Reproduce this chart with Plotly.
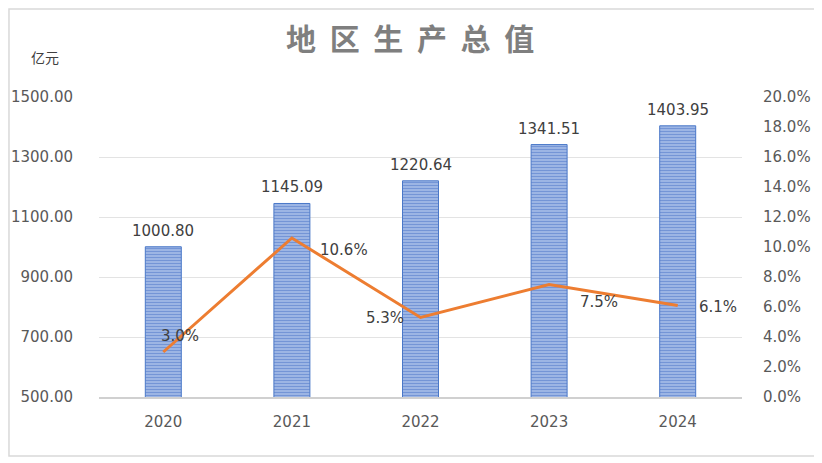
import plotly.graph_objects as go

years = ['2020', '2021', '2022', '2023', '2024']
gdp = [1000.80, 1145.09, 1220.64, 1341.51, 1403.95]
growth = [0.030, 0.106, 0.053, 0.075, 0.061]

# label offsets for the growth line (anchor, xshift, yshift)
growth_lbl = [('center', 17, 16), ('left', 26, -12), ('right', -15, 0),
              ('left', 29, -17), ('left', 19, -1)]

gray = '#595959'
font_name = 'DejaVu Sans'

fig = go.Figure()

fig.add_trace(go.Bar(
    x=years,
    y=gdp,
    width=0.28,
    marker=dict(
        color='#a9bfe8',
        line=dict(width=1, color='#4a78c8'),
        pattern=dict(shape='-', fgcolor='#3f6cc4', size=3, solidity=0.5),
    ),
    name='地区生产总值',
))

fig.add_trace(go.Scatter(
    x=years,
    y=growth,
    mode='lines',
    yaxis='y2',
    line=dict(color='#ED7D31', width=3),
    name='增速',
))

annotations = [dict(
    text='亿元', xref='paper', yref='paper',
    x=-0.084, y=1.133, xanchor='center', yanchor='middle',
    showarrow=False,
    font=dict(family='Noto Sans CJK SC', size=14, color='#404040'),
)]
# category axis: annotations take the category index
for i, v in enumerate(gdp):
    annotations.append(dict(
        x=i, y=v, xref='x', yref='y', text=f'{v:.2f}',
        showarrow=False, yanchor='middle', yshift=16,
        font=dict(family=font_name, size=15, color='#404040'),
    ))
for i, (v, (anc, dx, dy)) in enumerate(zip(growth, growth_lbl)):
    annotations.append(dict(
        x=i, y=v, xref='x', yref='y2', text=f'{v*100:.1f}%',
        showarrow=False, xanchor=anc, yanchor='middle', xshift=dx, yshift=dy,
        font=dict(family=font_name, size=15, color='#404040'),
    ))

fig.update_layout(
    width=814,
    height=455,
    margin=dict(l=91, r=80, t=89, b=66),
    paper_bgcolor='white',
    plot_bgcolor='white',
    showlegend=False,
    font=dict(family=font_name, color=gray, size=15),
    title=dict(
        text='<b>地  区  生  产  总  值</b>',
        x=0.494, xanchor='center',
        y=0.93, yanchor='middle',
        font=dict(family='Noto Sans CJK SC', size=30, color='#7f7f7f'),
    ),
    xaxis=dict(
        type='category',
        range=[-0.5, 4.5],
        automargin=False,
        showgrid=False,
        showline=True,
        linecolor='#d0d0d0',
        linewidth=1.5,
        ticks='outside',
        ticklen=10,
        tickcolor='rgba(0,0,0,0)',
        tickfont=dict(size=15, color=gray),
    ),
    yaxis=dict(
        range=[500, 1500],
        tickvals=[500, 700, 900, 1100, 1300, 1500],
        tickformat='.2f',
        automargin=False,
        showgrid=True,
        gridcolor='#e3e3e3',
        zeroline=False,
        ticks='outside',
        ticklen=22,
        tickcolor='rgba(0,0,0,0)',
        tickfont=dict(size=15, color=gray),
    ),
    yaxis2=dict(
        range=[0, 0.2],
        dtick=0.02,
        tickformat='.1%',
        overlaying='y',
        side='right',
        automargin=False,
        showgrid=False,
        zeroline=False,
        ticks='outside',
        ticklen=17,
        tickcolor='rgba(0,0,0,0)',
        tickfont=dict(size=15, color=gray),
    ),
    shapes=[dict(
        type='rect', xref='paper', yref='paper',
        x0=-0.14, x1=1.117, y0=-0.197, y1=1.293,
        line=dict(color='#d9d9d9', width=1.5),
    )],
    annotations=annotations,
)

fig.write_html('out.html')
